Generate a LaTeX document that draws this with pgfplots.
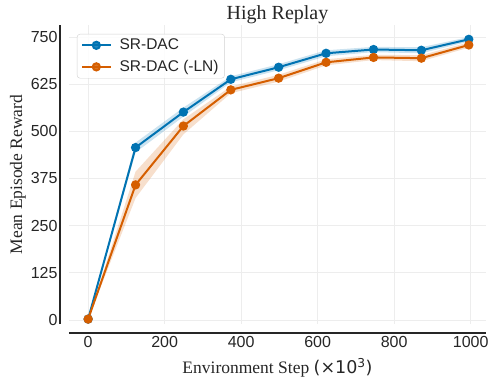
\documentclass[border=0pt]{standalone}
\usepackage{fontspec}
\setmainfont{Liberation Serif}
\setsansfont{Liberation Sans}
\newfontfamily\dejavu{DejaVu Sans}
\usepackage{pgfplots}
\pgfplotsset{compat=1.18}
\usepgfplotslibrary{fillbetween}
\usepackage{xcolor}
\definecolor{cblue}{HTML}{0173B2}
\definecolor{corange}{HTML}{D55E00}
\definecolor{spine}{HTML}{262626}

% x, mean/lower/upper for SR-DAC (b) and SR-DAC (-LN) (o)
\pgfplotstableread{
x   bm  bl  bh  om  ol  oh
0   2   2   2   2   2   2
124 457 444 470 358 323 393
249 551 539 563 514 492 532
373 638 630 646 610 601 619
498 670 662 678 641 632 650
622 707 699 715 683 675 691
746 717 710 724 696 689 703
871 715 707 723 694 686 702
995 744 738 750 729 722 736
}\runs

\begin{document}
\begin{tikzpicture}
\begin{axis}[
    at={(0,0)}, anchor=south west,
    scale only axis,
    width=417pt, height=299pt,
    xmin=-50, xmax=1040,
    ymin=-11, ymax=782,
    xtick={0,200,...,1000},
    ytick={0,125,...,750},
    clip=false,
    axis line style={draw=none},
    major tick length=0pt,
    grid=major,
    grid style={line width=0.6pt, color=black!7},
    ticklabel style={font=\sffamily\fontsize{16}{16}\selectfont, color=spine},
    /pgf/number format/assume math mode=true,
    /pgf/number format/1000 sep={},
    yticklabel style={xshift=-8pt},
    xticklabel style={yshift=-9pt},
    title={High Replay},
    title style={at={(axis description cs:0.5,1)}, anchor=center, yshift=4pt,
        font=\fontsize{20}{20}\selectfont, color=spine},
    xlabel={Environment Step {\dejavu (×10\textsuperscript{3})}},
    xlabel style={at={(axis description cs:0.5,0)}, anchor=center, yshift=-44pt,
        font=\fontsize{17.5}{17.5}\selectfont, color=spine},
    ylabel={Mean Episode Reward},
    ylabel style={at={(axis description cs:0,0.5)}, anchor=center, yshift=51pt,
        font=\fontsize{17.5}{17.5}\selectfont, color=spine},
    legend style={
        at={(axis description cs:0.019,0.97)}, anchor=north west,
        font=\sffamily\fontsize{15.5}{15.5}\selectfont, text=spine,
        draw=black!18, rounded corners=3pt, fill=white, fill opacity=0.85, text opacity=1,
        inner xsep=4pt, inner ysep=3pt, row sep=5pt,
        /tikz/every odd column/.append style={column sep=6pt},
    },
    legend cell align=left,
    legend image code/.code={
        \draw[mark repeat=2, mark phase=2] plot coordinates {(0cm,0cm) (0.5cm,0cm) (1cm,0cm)};
    },
]
\addplot[draw=none, name path=bh, forget plot] table[x=x, y=bh] {\runs};
\addplot[draw=none, name path=bl, forget plot] table[x=x, y=bl] {\runs};
\addplot[fill=cblue, fill opacity=0.2, draw=none, forget plot] fill between[of=bh and bl];
\addplot[draw=none, name path=oh, forget plot] table[x=x, y=oh] {\runs};
\addplot[draw=none, name path=ol, forget plot] table[x=x, y=ol] {\runs};
\addplot[fill=corange, fill opacity=0.2, draw=none, forget plot] fill between[of=oh and ol];

\addplot[color=cblue, line width=2pt, mark=*, mark size=3.6pt] table[x=x, y=bm] {\runs};
\addlegendentry{SR-DAC}
\addplot[color=corange, line width=2pt, mark=*, mark size=3.6pt] table[x=x, y=om] {\runs};
\addlegendentry{SR-DAC (-LN)}

\draw[line width=2pt, color=spine] ([xshift=-9pt]rel axis cs:0,0) -- ([xshift=-9pt]rel axis cs:0,1);
\draw[line width=2pt, color=spine] ([yshift=-9pt]rel axis cs:0,0) -- ([yshift=-9pt]rel axis cs:1,0);
\end{axis}
\pgfresetboundingbox
\useasboundingbox (-69pt,-64pt) rectangle (426pt,324pt);
\end{tikzpicture}
\end{document}
